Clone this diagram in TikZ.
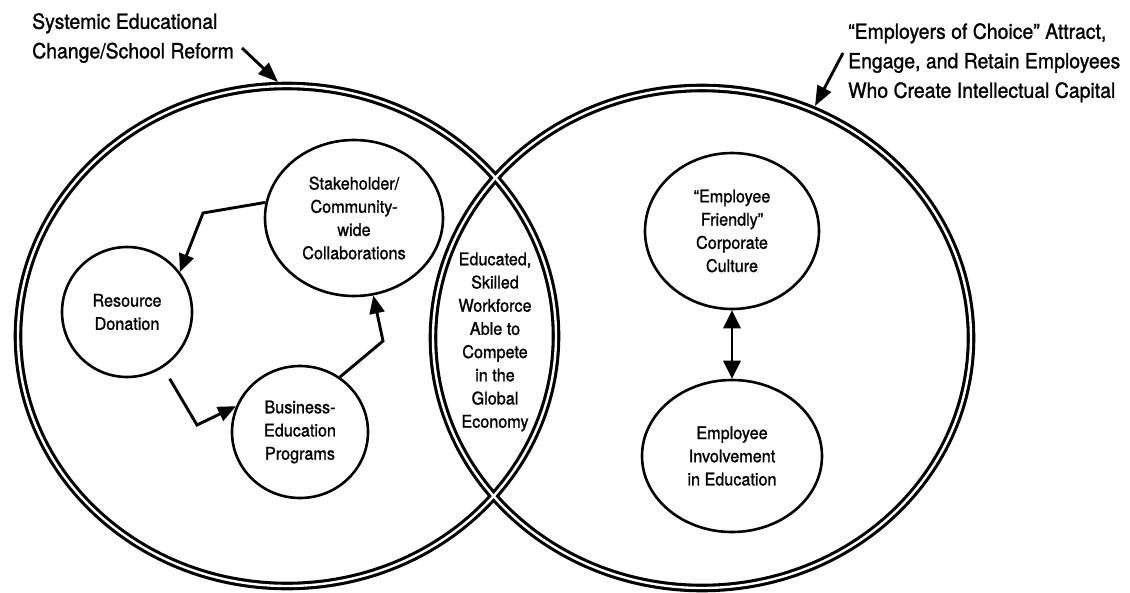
\documentclass[tikz,border=0pt]{standalone}
\usepackage{fontspec}
\setmainfont[FakeBold=1.2,FakeStretch=0.93]{TeX Gyre Heros}
\usetikzlibrary{arrows.meta,shapes.geometric}
\begin{document}
\begin{tikzpicture}[x=1pt,y=-1pt,
  bubble/.style={ellipse, draw, line width=2.6pt, inner sep=0pt, align=center,
    font=\fontsize{17.4}{23.2}\selectfont},
  conn/.style={line width=2.9pt, -{Triangle[length=18pt,width=15pt]}, line join=miter},
  pointer/.style={line width=2.9pt, -{Triangle[length=20pt,width=15pt]}},
  lbl/.style={font=\fontsize{20.9}{29.5}\selectfont, align=left, inner sep=0pt, anchor=north west},
  bigblack/.style={line width=8.6pt},
  bigwhite/.style={white, line width=2.4pt}]
\useasboundingbox (0,0) rectangle (1130,592);

% two large double-lined circles
\draw[bigblack] (287,336) ellipse [x radius=269, y radius=250];
\draw[bigblack] (702,338) ellipse [x radius=269, y radius=250];
\draw[bigwhite] (287,336) ellipse [x radius=269, y radius=250];
\draw[bigwhite] (702,338) ellipse [x radius=269, y radius=250];

% inner bubbles
\node[bubble, minimum width=130pt, minimum height=130pt] (res) at (127,312) {Resource\\Donation};
\node[bubble, minimum width=178pt, minimum height=156pt] (stake) at (354,218) {Stakeholder/\\Community-\\wide\\Collaborations};
\node[bubble, minimum width=136pt, minimum height=132pt] (bus) at (300,432) {Business-\\Education\\Programs};
\node[bubble, minimum width=174pt, minimum height=156pt] (ef) at (732,231) {“Employee\\Friendly”\\Corporate\\Culture};
\node[bubble, minimum width=180pt, minimum height=152pt] (ei) at (732,456) {Employee\\Involvement\\in Education};

% lens text
\node[align=center, inner sep=0pt, font=\fontsize{17.4}{23.2}\selectfont] (lens) at (495,342)
  {Educated,\\Skilled\\Workforce\\Able to\\Compete\\in the\\Global\\Economy};

% cycle arrows
\coordinate (k1) at (203,213);
\draw[conn] (stake.170) -- (k1) -- (res.37);
\coordinate (k2) at (197,425);
\draw[conn, shorten <=13pt] (res.-57) -- (k2) -- (bus.158);
\coordinate (k3) at (383,341);
\draw[conn] (bus.54) -- (k3) -- (stake.-76);

% double arrow
\draw[line width=2.9pt, {Triangle[length=18pt,width=17pt]}-{Triangle[length=18pt,width=17pt]}] (ef.south) -- (ei.north);

% labels
\node[lbl] (lab1) at (32,13) {Systemic Educational\\Change/School Reform};
\node[lbl] (lab2) at (848,23) {“Employers of Choice” Attract,\\Engage, and Retain Employees\\Who Create Intellectual Capital};

\coordinate (a1s) at (242,48);
\coordinate (a1e) at (278,82);
\draw[pointer] (a1s) -- (a1e);
\coordinate (a2s) at (843,53);
\coordinate (a2e) at (815,106);
\draw[pointer] (a2s) -- (a2e);
\end{tikzpicture}
\end{document}
